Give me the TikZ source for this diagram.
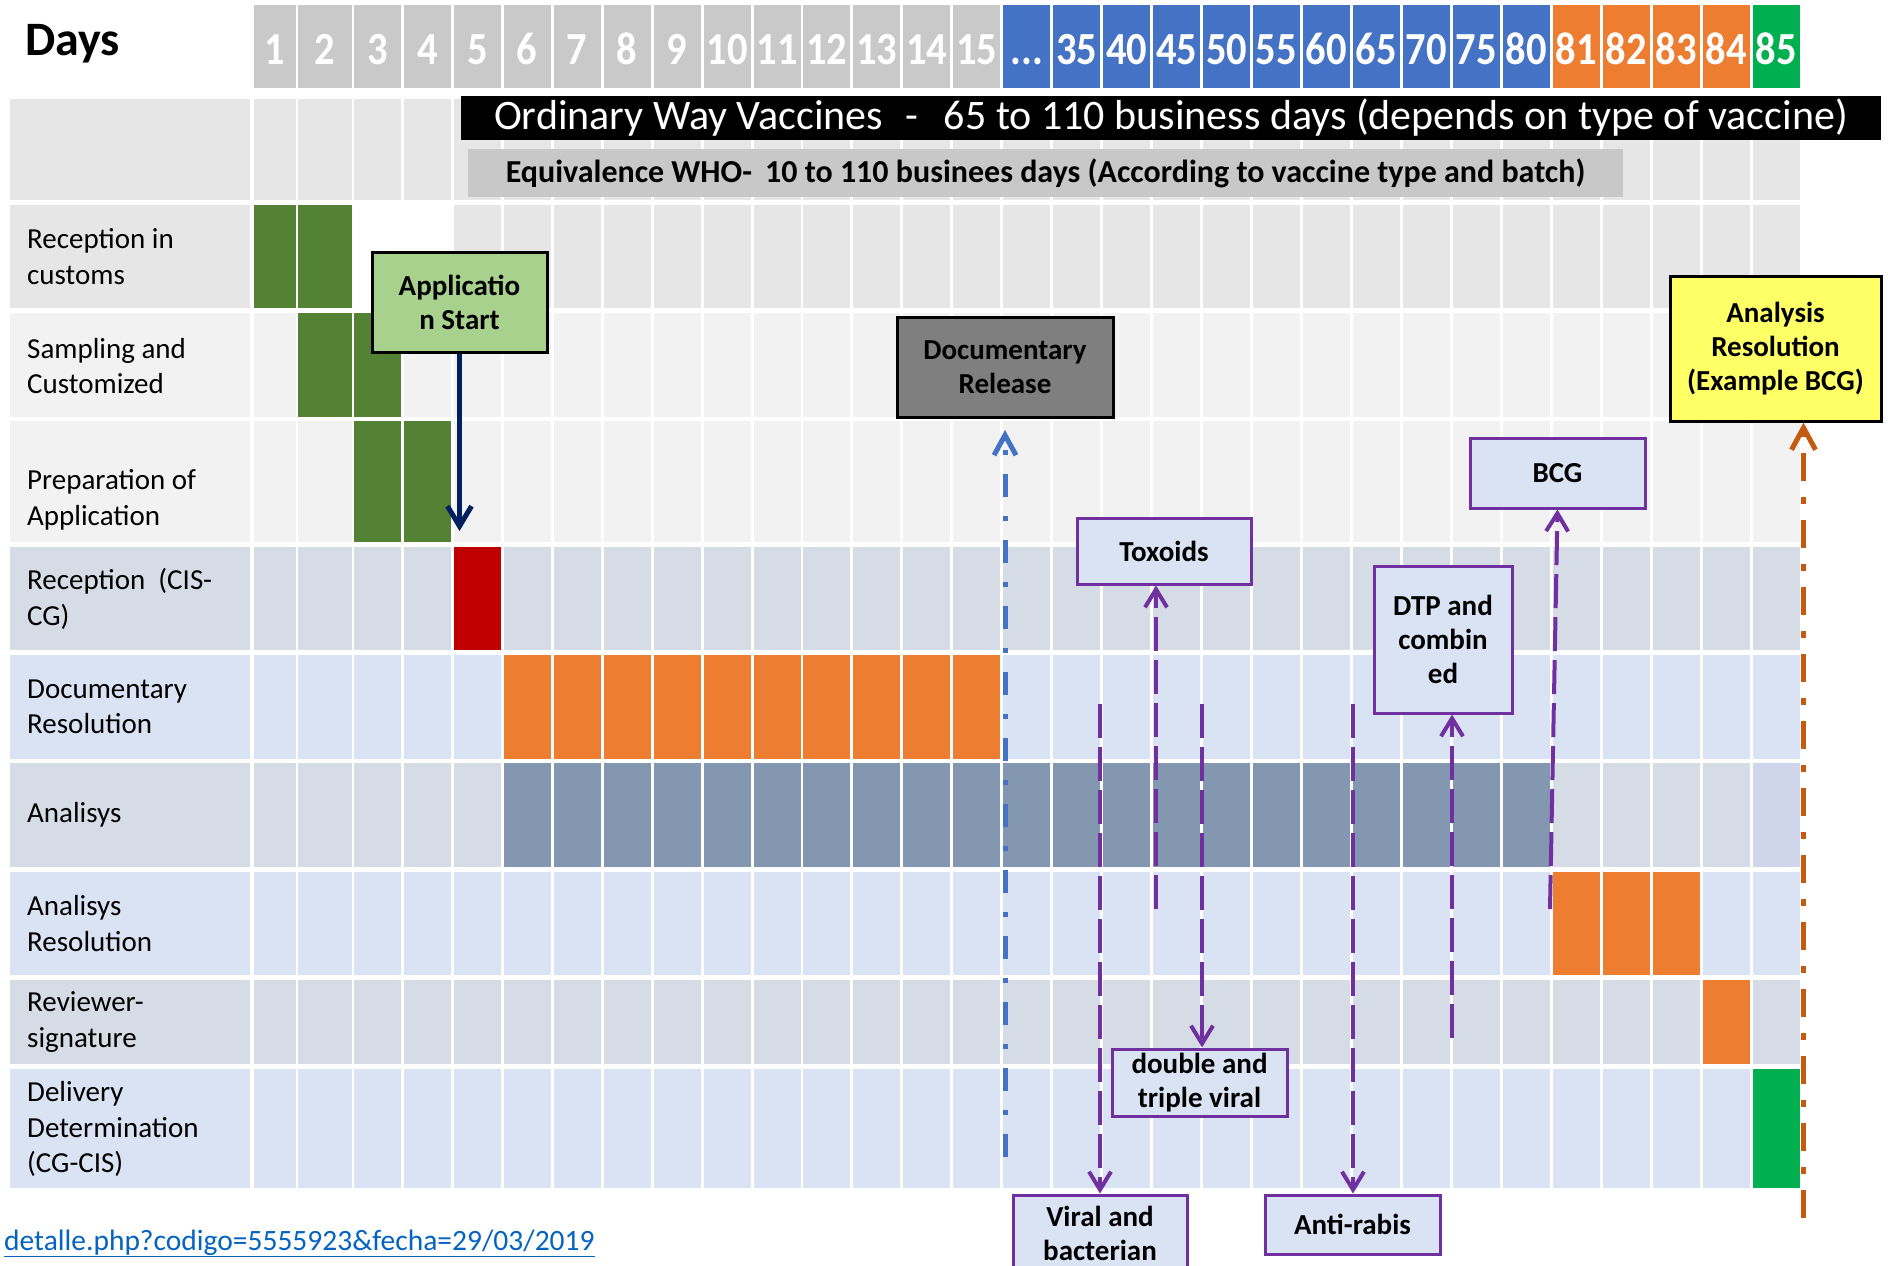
\documentclass[tikz,border=0pt]{standalone}
\usepackage{fontspec}
\setmainfont{Carlito}
\usetikzlibrary{arrows.meta}
\definecolor{hdrgray}{HTML}{C9C9C9}
\definecolor{hdrblue}{HTML}{4472C4}
\definecolor{orng}{HTML}{ED7D31}
\definecolor{grn}{HTML}{00B050}
\definecolor{dkgrn}{HTML}{548235}
\definecolor{myred}{HTML}{C00000}
\definecolor{rowA}{HTML}{E6E6E6}
\definecolor{rowB}{HTML}{F2F2F2}
\definecolor{rowC}{HTML}{D6DCE5}
\definecolor{rowD}{HTML}{DAE3F3}
\definecolor{anal}{HTML}{8497B0}
\definecolor{lav}{HTML}{CFD5EA}
\definecolor{purp}{HTML}{7030A0}
\definecolor{navy}{HTML}{002060}
\definecolor{darkorng}{HTML}{C55A11}
\definecolor{lightgrn}{HTML}{A9D18E}
\definecolor{yel}{HTML}{FFFF66}
\definecolor{linkblue}{HTML}{0563C1}
\definecolor{docgray}{HTML}{7F7F7F}
\definecolor{eqgray}{HTML}{C8C8C8}
\newcommand\colb[1]{\ifnum#1=1 \def\colL{254}\def\colR{296}\else\ifnum#1=2 \def\colL{298}\def\colR{352}\else\pgfmathsetmacro\colL{254+(#1-1)*49.95}\pgfmathsetmacro\colR{\colL+47}\fi\fi}
\newcommand\cellc[4]{\colb{#1}\fill[#4] (\colL,#2) rectangle (\colR,#3);}
\newcommand\ddd{...}
\tikzset{
  lbl/.style={anchor=west, align=left, inner sep=0pt, font=\fontsize{29}{35.5}\selectfont},
  hdrtxt/.style={text=white, inner sep=0pt, anchor=base, font=\fontsize{46}{50}\selectfont\bfseries},
  boxtxt/.style={align=center, inner sep=0pt, line width=3pt, font=\fontsize{29}{34}\selectfont\bfseries},
  purpbox/.style={boxtxt, draw=purp, fill=rowD},
  blkbox/.style={boxtxt, draw=black},
  purpline/.style={purp, line width=4pt, dash pattern=on 34pt off 9pt, -{Straight Barb[length=18pt,width=22pt]}},
}
\begin{document}
\begin{tikzpicture}[x=1pt,y=-1pt]
\useasboundingbox (0,0) rectangle (1888,1266);
\clip (0,0) rectangle (1888,1266);
\fill[white] (0,0) rectangle (1888,1266);
% header
\node[anchor=west, inner sep=0pt, font=\fontsize{48}{50}\selectfont\bfseries] (days) at (25,44) {Days};
\foreach \lab [count=\i] in {1,2,3,4,5,6,7,8,9,10,11,12,13,14,15,\ddd,35,40,45,50,55,60,65,70,75,80,81,82,83,84,85} {
  \colb{\i}
  \ifnum\i<16 \def\hc{hdrgray}\else\ifnum\i<27 \def\hc{hdrblue}\else\ifnum\i<31 \def\hc{orng}\else\def\hc{grn}\fi\fi\fi
  \fill[\hc] (\colL,5) rectangle (\colR,88);
  \node[hdrtxt] (h\i) at ({(\colL+\colR)/2},64) {\scalebox{0.88}[1]{\lab}};
}
% grid rows
\foreach \t/\b/\c in {99/200/rowA,205/308/rowA,313/417/rowB,421/542/rowB,547/650/rowC,655/759/rowD,763/867/rowC,872/975/rowD,980/1064/rowC,1069/1188/rowD}{
  \fill[\c] (10,\t) rectangle (250,\b);
  \foreach \i in {1,...,31}{\cellc{\i}{\t}{\b}{\c}}
}
\fill[white] (353,205) rectangle (453,308);
% colored cells
\cellc{1}{205}{308}{dkgrn}\cellc{2}{205}{308}{dkgrn}
\cellc{2}{313}{417}{dkgrn}\cellc{3}{313}{417}{dkgrn}
\cellc{3}{421}{542}{dkgrn}\cellc{4}{421}{542}{dkgrn}
\cellc{5}{547}{650}{myred}
\foreach \i in {6,...,15}{\cellc{\i}{655}{759}{orng}}
\foreach \i in {6,...,26}{\cellc{\i}{763}{867}{anal}}
\cellc{31}{763}{867}{lav}
\foreach \i in {27,28,29}{\cellc{\i}{872}{975}{orng}}
\cellc{30}{980}{1064}{orng}
\cellc{31}{1069}{1188}{grn}
% row labels
\node[lbl] (r1) at (27,256.5) {Reception in\\customs};
\node[lbl] (r2) at (27,366) {Sampling and\\Customized};
\node[lbl] (r3) at (27,500) {Preparation of\\Application};
\node[lbl] (r4) at (27,599) {Reception\ \ (CIS-\\CG)};
\node[lbl] (r5) at (27,707) {Documentary\\Resolution};
\node[lbl] (r6) at (27,815) {Analisys};
\node[lbl] (r7) at (27,923.5) {Analisys\\Resolution};
\node[lbl] (r8) at (27,1022) {Reviewer-\\signature};
\node[lbl] (r9) at (27,1129) {Delivery\\Determination\\(CG-CIS)};
% title bars
\node[fill=black, text=white, minimum width=1420pt, minimum height=44pt, inner sep=0pt, font=\fontsize{42}{44}\selectfont] (title) at (1171,118) {Ordinary Way Vaccines\hspace{22pt}-\hspace{26pt}65 to 110 business days (depends on type of vaccine)};
\node[fill=eqgray, minimum width=1155pt, minimum height=48pt, inner sep=0pt, font=\fontsize{32}{34}\selectfont\bfseries] (equiv) at (1045.5,173) {Equivalence WHO-\hspace{13pt}10 to 110 businees days (According to vaccine type and batch)};
% boxes
\node[blkbox, fill=lightgrn, minimum width=175pt, minimum height=100pt] (appstart) at (459.5,302) {Applicatio\\n Start};
\node[blkbox, fill=docgray, minimum width=216pt, minimum height=100pt] (docrel) at (1005,367.5) {Documentary\\Release};
\node[blkbox, fill=yel, minimum width=211pt, minimum height=145pt] (anres) at (1775.5,348.5) {Analysis\\Resolution\\(Example BCG)};
\node[purpbox, minimum width=174pt, minimum height=66pt] (toxoids) at (1164,551) {Toxoids};
\node[purpbox, minimum width=175pt, minimum height=70pt] (bcg) at (1557.5,473) {BCG};
\node[purpbox, minimum width=138pt, minimum height=147pt] (dtp) at (1443,639.5) {DTP and\\combin\\ed};
\node[purpbox, minimum width=175pt, minimum height=67pt] (dtv) at (1199.5,1082.5) {double and\\triple viral};
\node[purpbox, minimum width=174pt, minimum height=76pt] (vb) at (1100,1233) {Viral and\\bacterian};
\node[purpbox, minimum width=175pt, minimum height=59pt] (ar) at (1352.5,1224.5) {Anti-rabis};
% connectors
\coordinate (appTip) at (459.5,531);
\draw[navy, line width=5pt, -{Straight Barb[length=20pt,width=24pt]}] (appstart.south) -- (appTip);
\coordinate (docB) at (1005,1157);
\draw[hdrblue, line width=5pt, dash pattern=on 23pt off 19pt on 5pt off 19pt, shorten >=11pt, -{Straight Barb[length=20pt,width=22pt]}] (docB) -- (docrel.south);
\coordinate (orgB) at (1803.5,1218);
\draw[darkorng, line width=5pt, dash pattern=on 28pt off 16pt on 7pt off 16pt, -{Straight Barb[length=22pt,width=24pt]}] (orgB) -- (orgB |- anres.south);
\coordinate (toxB) at (1156,909);
\draw[purpline] (toxB) -- (toxB |- toxoids.south);
\coordinate (bcgB) at (1550,909);
\draw[purpline] (bcgB) -- (bcg.south);
\coordinate (dtpB) at (1452,1038);
\draw[purpline] (dtpB) -- (dtpB |- dtp.south);
\coordinate (dtvT) at (1202,704);
\draw[purpline] (dtvT) -- (dtvT |- dtv.north);
\coordinate (vbT) at (1100,704);
\draw[purpline] (vbT) -- (vb.north);
\coordinate (arT) at (1353,704);
\draw[purpline] (arT) -- (arT |- ar.north);
% link
\node[anchor=base west, inner sep=0pt, text=linkblue, font=\fontsize{29.5}{30}\selectfont] (link) at (4,1250) {\underline{detalle.php?codigo=5555923\&fecha=29/03/2019}};
\end{tikzpicture}
\end{document}
